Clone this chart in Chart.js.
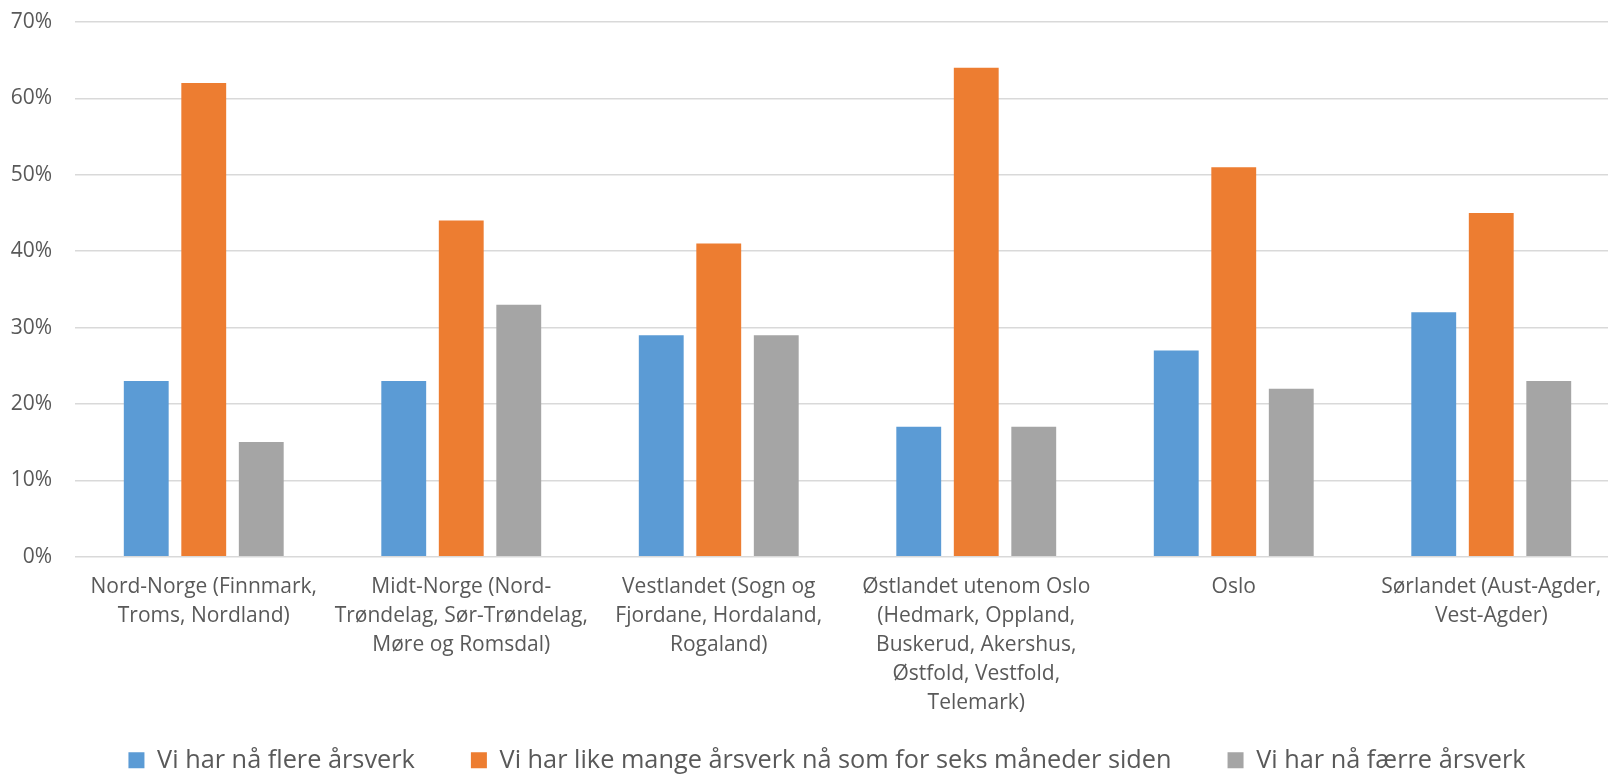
<!DOCTYPE html>
<html>
<head>
<meta charset="utf-8">
<script src="https://cdn.jsdelivr.net/npm/chart.js@4"></script>
<style>
  html, body { margin: 0; padding: 0; background: #fff; overflow: hidden; }
  #wrap { width: 1620px; height: 818px; position: relative; }
</style>
</head>
<body>
<div id="wrap"><canvas id="regionChart"></canvas></div>
<script>
// Regions (wrapped as in the original)
const regions = [
  ["Nord-Norge (Finnmark,", "Troms, Nordland)"],
  ["Midt-Norge (Nord-", "Trøndelag, Sør-Trøndelag,", "Møre og Romsdal)"],
  ["Vestlandet (Sogn og", "Fjordane, Hordaland,", "Rogaland)"],
  ["Østlandet utenom Oslo", "(Hedmark, Oppland,", "Buskerud, Akershus,", "Østfold, Vestfold,", "Telemark)"],
  ["Oslo"],
  ["Sørlandet (Aust-Agder,", "Vest-Agder)"],
];

const seriesNames = [
  "Vi har nå flere årsverk",
  "Vi har like mange årsverk nå som for seks måneder siden",
  "Vi har nå færre årsverk",
];

// percent
const flere = [23, 23, 29, 17, 27, 32];
const likeMange = [62, 44, 41, 64, 51, 45];
const faerre = [15, 33, 29, 17, 22, 23];

const yTicks = [0, 10, 20, 30, 40, 50, 60, 70];

const textColor = "#595959";
const fontFamily = "'Open Sans', 'Noto Sans', sans-serif";

// pull the legend up closer to the axis labels (like the Excel original)
const legendLift = {
  id: "legendLift",
  afterLayout(chart) {
    const lg = chart.legend;
    if (!lg) return;
    lg.top -= 35;
    lg.bottom -= 35;
    lg.left += 17;
    lg.right += 17;
  },
};

document.addEventListener("DOMContentLoaded", () => {
  const ctx = document.getElementById("regionChart").getContext("2d");
  new Chart(ctx, {
    type: "bar",
    data: {
      labels: regions,
      datasets: [
        { label: seriesNames[0], data: flere, backgroundColor: "#5B9BD5" },
        { label: seriesNames[1], data: likeMange, backgroundColor: "#ED7D31" },
        { label: seriesNames[2], data: faerre, backgroundColor: "#A5A5A5" },
      ],
    },
    options: {
      responsive: true,
      maintainAspectRatio: false,
      animation: false,
      categoryPercentage: 0.67,
      barPercentage: 0.78,
      layout: { padding: { top: 22, left: 0, right: 0, bottom: 0 } },
      scales: {
        x: {
          grid: { display: false, drawTicks: false },
          border: { display: false },
          ticks: {
            color: textColor,
            font: { family: fontFamily, size: 21, lineHeight: 1.38 },
            maxRotation: 0,
            autoSkip: false,
            padding: 16,
          },
          afterFit: (axis) => {
            axis.height = 170;
            axis.paddingLeft = 0;
            axis.paddingRight = 0;
          },
        },
        y: {
          min: 0,
          max: 70,
          afterBuildTicks: (axis) => {
            axis.ticks = yTicks.map((v) => ({ value: v }));
          },
          border: { display: false },
          grid: { color: "#d9d9d9", lineWidth: 1.5, drawTicks: false },
          ticks: {
            color: textColor,
            font: { family: fontFamily, size: 21 },
            padding: 23,
            callback: (v) => v + "%",
          },
          afterFit: (axis) => {
            axis.width = 75;
            axis.paddingTop = 0;
            axis.paddingBottom = 0;
          },
        },
      },
      plugins: {
        legend: {
          position: "bottom",
          labels: {
            color: textColor,
            font: { family: fontFamily, size: 25.3 },
            boxWidth: 16,
            boxHeight: 16,
            padding: 56,
          },
        },
        tooltip: { enabled: false },
      },
    },
    plugins: [legendLift],
  });
});
</script>
</body>
</html>
